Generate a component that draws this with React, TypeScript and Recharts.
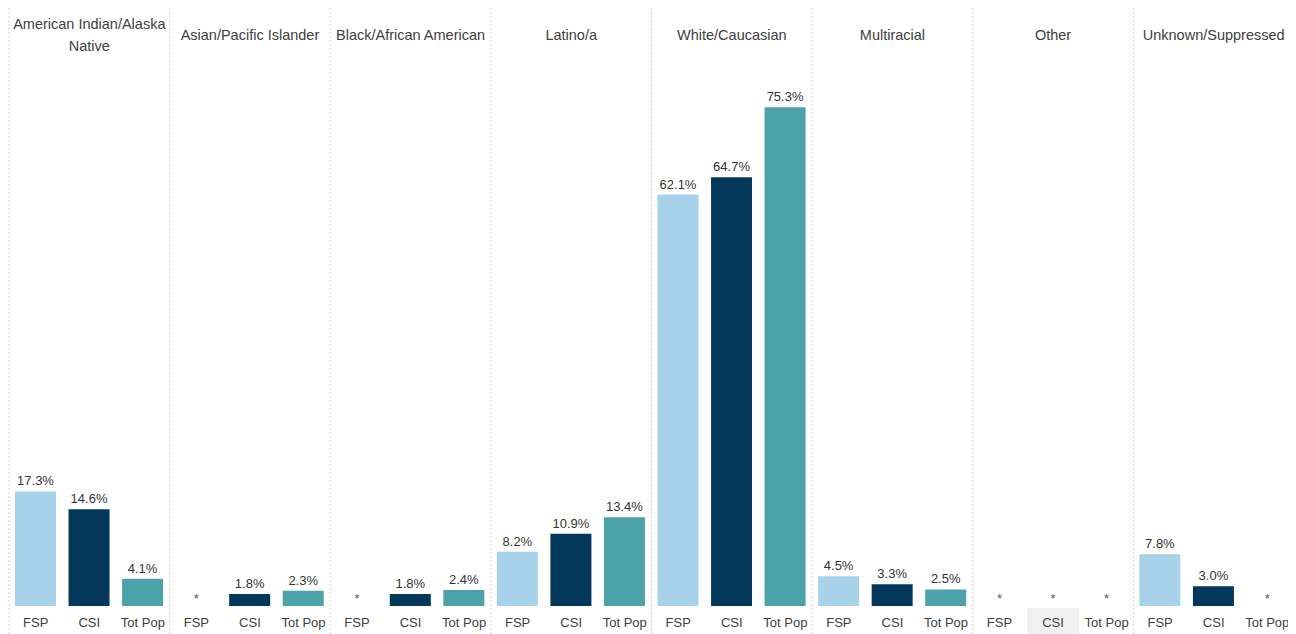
import React from 'react';
import { BarChart, Bar, XAxis, YAxis, CartesianGrid, Cell } from 'recharts';

const groups = [
  'American Indian/Alaska Native',
  'Asian/Pacific Islander',
  'Black/African American',
  'Latino/a',
  'White/Caucasian',
  'Multiracial',
  'Other',
  'Unknown/Suppressed',
];
const measures = ['FSP', 'CSI', 'Tot Pop'];

// null = suppressed (shown as *)
const fsp = [17.3, null, null, 8.2, 62.1, 4.5, null, 7.8];
const csi = [14.6, 1.8, 1.8, 10.9, 64.7, 3.3, null, 3.0];
const totPop = [4.1, 2.3, 2.4, 13.4, 75.3, 2.5, null, null];

const colors = ['#A8D2EA', '#03385A', '#4BA2A9'];
const highlighted = 'Other|CSI';

const data = groups.flatMap((group, g) =>
  [fsp, csi, totPop].map((series, m) => ({
    key: `${group}|${measures[m]}`,
    group,
    measure: measures[m],
    m,
    value: series[g],
  }))
);

const FONT = "'Liberation Sans', Arial, sans-serif";

const wrap = (text: string, maxChars = 22) => {
  const lines: string[] = [];
  let cur = '';
  text.split(' ').forEach((w) => {
    const next = cur ? `${cur} ${w}` : w;
    if (next.length > maxChars && cur) {
      lines.push(cur);
      cur = w;
    } else cur = next;
  });
  if (cur) lines.push(cur);
  return lines;
};

const HeaderTick = (props: any) => {
  const { x, index } = props;
  const row = data[index];
  if (!row || row.m !== 1) return null;
  const lines = wrap(row.group);
  const lineH = 22;
  const startY = 27 - ((lines.length - 1) * lineH) / 2;
  return (
    <text textAnchor="middle" fontFamily={FONT} fontSize={14.5} fill="#404040">
      {lines.map((l, i) => (
        <tspan key={i} x={x} y={startY + i * lineH} dominantBaseline="central">
          {l}
        </tspan>
      ))}
    </text>
  );
};

// bottom tick: measure name, plus "*" above the baseline for suppressed values
const MeasureTick = (props: any) => {
  const { x, y, index } = props;
  const row = data[index];
  if (!row) return null;
  return (
    <g>
      {row.key === highlighted && (
        <rect x={x - 26} y={y} width={52} height={28} fill="#F0F0F0" />
      )}
      <text x={x} y={y + 14} textAnchor="middle" dominantBaseline="central" fontFamily={FONT} fontSize={13} fill="#404040">
        {row.measure}
      </text>
      {row.value == null && (
        <text x={x} y={y - 5} textAnchor="middle" fontFamily={FONT} fontSize={13} fill="#555">
          *
        </text>
      )}
    </g>
  );
};

const renderLabel = (props: any) => {
  const { x, y, width, value } = props;
  if (value == null) return null;
  return (
    <text x={x + width / 2} y={y - 6} textAnchor="middle" fontFamily={FONT} fontSize={13} fill="#333">
      {`${Number(value).toFixed(1)}%`}
    </text>
  );
};

const App: React.FC = () => {
  return (
    <BarChart
      width={1288}
      height={626}
      data={data}
      margin={{ top: 0, right: 2, bottom: 0, left: 1 }}
    >
      <CartesianGrid
        horizontal={false}
        stroke="#D4D4D4"
        strokeDasharray="2 2"
        y={0}
        height={626}
        verticalCoordinatesGenerator={({ offset }: any) =>
          groups.map((_, i) => offset.left + (i * offset.width) / groups.length).concat(offset.left + offset.width)
        }
      />
      <XAxis
        xAxisId="top"
        orientation="top"
        dataKey="key"
        height={68}
        interval={0}
        axisLine={false}
        tickLine={false}
        tick={<HeaderTick />}
      />
      <XAxis
        dataKey="key"
        height={28}
        interval={0}
        axisLine={false}
        tickLine={false}
        tickSize={0}
        tickMargin={2}
        tick={<MeasureTick />}
      />
      <YAxis hide domain={[0, 80]} />
      <Bar dataKey="value" barSize={41} isAnimationActive={false} label={renderLabel}>
        {data.map((d) => (
          <Cell key={d.key} fill={colors[d.m]} />
        ))}
      </Bar>
    </BarChart>
  );
};

export default App;
